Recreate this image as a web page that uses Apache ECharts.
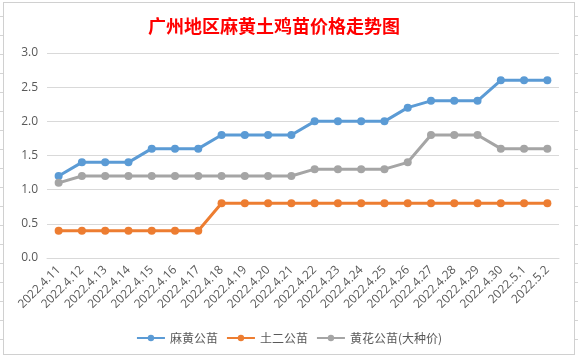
<!DOCTYPE html>
<html>
<head>
<meta charset="utf-8">
<script src="https://cdn.jsdelivr.net/npm/echarts@6/dist/echarts.min.js"></script>
<style>
html,body{margin:0;padding:0;width:578px;height:358px;overflow:hidden;background:#fff;}
#bg{position:absolute;left:0;top:0;width:578px;height:358px;
background-image:repeating-linear-gradient(to bottom, transparent 0px, transparent 16px, #d4d4d4 16px, #d4d4d4 17px, transparent 17px, transparent 19px);}
#box{position:absolute;left:3px;top:2px;width:570px;height:351px;border:1px solid #d0d0d0;background:#fff;}
#chart{position:absolute;left:0;top:0;width:578px;height:358px;}
</style>
</head>
<body>
<div id="bg"></div>
<div id="box"></div>
<div id="chart"></div>
<script>
const categories = ['2022.4.11','2022.4.12','2022.4.13','2022.4.14','2022.4.15','2022.4.16','2022.4.17','2022.4.18','2022.4.19','2022.4.20','2022.4.21','2022.4.22','2022.4.23','2022.4.24','2022.4.25','2022.4.26','2022.4.27','2022.4.28','2022.4.29','2022.4.30','2022.5.1','2022.5.2'];
const seriesNames = ['麻黄公苗','土二公苗','黄花公苗(大种价)'];
const mahuang = [1.2,1.4,1.4,1.4,1.6,1.6,1.6,1.8,1.8,1.8,1.8,2.0,2.0,2.0,2.0,2.2,2.3,2.3,2.3,2.6,2.6,2.6];
const tuer = [0.4,0.4,0.4,0.4,0.4,0.4,0.4,0.8,0.8,0.8,0.8,0.8,0.8,0.8,0.8,0.8,0.8,0.8,0.8,0.8,0.8,0.8];
const huanghua = [1.1,1.2,1.2,1.2,1.2,1.2,1.2,1.2,1.2,1.2,1.2,1.3,1.3,1.3,1.3,1.4,1.8,1.8,1.8,1.6,1.6,1.6];
const titleText = '广州地区麻黄土鸡苗价格走势图';
const colors = ['#5B9BD5','#ED7D31','#A5A5A5'];

const chart = echarts.init(document.getElementById('chart'), null, {renderer:'canvas'});
const mk = (name, data, color) => ({
  name, type:'line', data, symbol:'circle', symbolSize:8,
  itemStyle:{color}, lineStyle:{color, width:3}, animation:false
});
chart.setOption({
  animation:false,
  color: colors,
  title:{
    text:titleText, left:143, top:12,
    textStyle:{color:'#ff0000', fontSize:18, fontWeight:'bold', fontFamily:'"Noto Sans CJK SC", serif'}
  },
  legend:{
    data:seriesNames, bottom:9, left:'center', itemWidth:28, itemHeight:8, itemGap:8,
    textStyle:{color:'#595959', fontSize:12, fontFamily:'"Noto Sans CJK SC", sans-serif'}
  },
  grid:{left:47, right:19, top:53, bottom:100, containLabel:false},
  xAxis:{
    type:'category', data:categories, boundaryGap:true,
    axisLine:{lineStyle:{color:'#d9d9d9'}}, axisTick:{show:false},
    axisLabel:{rotate:45, interval:0, color:'#595959', fontSize:12, margin:10, fontFamily:'"Open Sans", sans-serif'}
  },
  yAxis:{
    type:'value', min:0, max:3, interval:0.5,
    axisLine:{show:false}, axisTick:{show:false},
    splitLine:{lineStyle:{color:'#d9d9d9'}},
    axisLabel:{color:'#595959', fontSize:12, margin:9, formatter:v=>v.toFixed(1), fontFamily:'"Open Sans", sans-serif'}
  },
  series:[mk(seriesNames[0], mahuang, colors[0]), mk(seriesNames[1], tuer, colors[1]), mk(seriesNames[2], huanghua, colors[2])]
});
</script>
</body>
</html>
